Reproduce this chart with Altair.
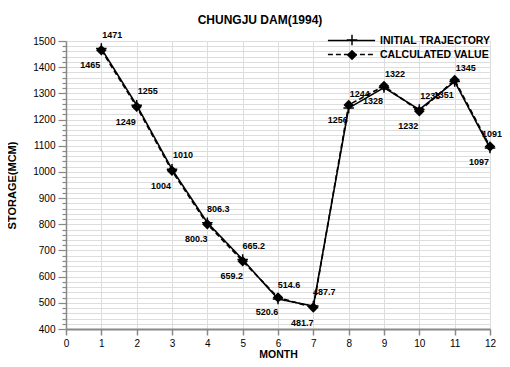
import altair as alt
import pandas as pd

months = [1, 2, 3, 4, 5, 6, 7, 8, 9, 10, 11, 12]
initial_traj = [1471, 1255, 1010, 806.3, 665.2, 514.6, 487.7, 1244, 1322, 1238, 1345, 1091]
calculated = [1465, 1249, 1004, 800.3, 659.2, 520.6, 481.7, 1256, 1328, 1232, 1351, 1097]
series_names = ["INITIAL TRAJECTORY", "CALCULATED VALUE"]
marker_names = ["plus", "diamond"]
x_ticks = list(range(0, 13))
y_ticks = list(range(400, 1501, 20))

rows = []
for m, v in zip(months, initial_traj):
    rows.append({"month": m, "value": v, "series": series_names[0], "marker": marker_names[0], "label": f"{v:g}"})
for m, v in zip(months, calculated):
    rows.append({"month": m, "value": v, "series": series_names[1], "marker": marker_names[1], "label": f"{v:g}"})
df = pd.DataFrame(rows)

FONT = "Liberation Sans"

x_enc = alt.X("month:Q", scale=alt.Scale(domain=[0, 12], nice=False),
              axis=alt.Axis(values=x_ticks, title="MONTH", tickSize=6, labelPadding=3,
                            domainWidth=2, tickWidth=1.5, labelFlush=False, labelOverlap=False,
                            format="d", titleY=28.5, titleBaseline="alphabetic",
                            titleFontSize=10.5))
y_enc = alt.Y("value:Q", scale=alt.Scale(domain=[400, 1500], nice=False, zero=False),
              axis=alt.Axis(values=y_ticks, title="STORAGE(MCM)", format="d",
                            labelExpr="datum.value % 100 === 0 ? datum.label : ''",
                            tickSize={"condition": {"test": "datum.value % 100 === 0", "value": 8}, "value": 4},
                            labelPadding=3, domainWidth=1.5, tickWidth=1.2, labelOverlap=False,
                            titleX=-54, titleBaseline="middle"))

base = alt.Chart(df).encode(x=x_enc, y=y_enc)

SYM = 110
line_path = "M-4.5,0L4.5,0"

lines = base.mark_line(color="black", strokeWidth=1.6).encode(
    strokeDash=alt.StrokeDash("series:N",
        scale=alt.Scale(domain=series_names, range=[[1, 0], [5, 3]]),
        legend=alt.Legend(title=None, orient="none", legendX=279, legendY=-7,
                          symbolType=line_path, symbolSize=SYM, symbolStrokeColor="black",
                          symbolFillColor="transparent",
                          symbolStrokeWidth=1.6, labelFont=FONT, labelFontWeight="bold",
                          labelFontSize=10.5, labelOffset=22, padding=0, rowPadding=2)),
)

plus_path = "M-1,-0.14L1,-0.14L1,0.14L-1,0.14Z M-0.14,-1L0.14,-1L0.14,1L-0.14,1Z"
diamond_path = "M0,-1L1,0L0,1L-1,0Z"

points = base.mark_point(filled=True, color="black", opacity=1, size=SYM).encode(
    shape=alt.Shape("marker:N",
        scale=alt.Scale(domain=marker_names, range=[plus_path, diamond_path]),
        legend=alt.Legend(title=None, orient="none", legendX=280, legendY=-7,
                          symbolFillColor="black", symbolStrokeColor="black",
                          symbolSize=SYM, labelExpr="''", labelFontSize=10.5,
                          labelFont=FONT, labelFontWeight="bold",
                          padding=0, rowPadding=-5)),
)

upper = base.transform_filter(alt.datum.series == series_names[0]).mark_text(
    font=FONT, fontWeight="bold", fontSize=9, dy=-14, color="black",
    dx=alt.ExprRef("datum.month >= 12 ? 2 : 11")
).encode(text="label:N")

lower = base.transform_filter(alt.datum.series == series_names[1]).mark_text(
    font=FONT, fontWeight="bold", fontSize=9, dx=-11, dy=15, color="black"
).encode(text="label:N")

chart = alt.layer(lines, points, upper, lower).properties(
    width=424, height=288,
    autosize=alt.AutoSizeParams(type="none"),
    padding={"left": 58, "top": 33, "right": 12, "bottom": 30},
    title=alt.TitleParams("CHUNGJU DAM(1994)", font=FONT, fontSize=12, fontWeight="bold",
                          anchor="middle", dx=-18, offset=4, frame="group", color="black"),
).configure_view(stroke=None).configure_axis(
    labelFont=FONT, labelFontSize=11, labelFontWeight="bold", labelColor="black",
    titleFont=FONT, titleFontSize=11, titleFontWeight="bold", titleColor="black",
    domainColor="black", tickColor="black", grid=False,
).configure(background="white")

chart.save("out.html", embed_options={"renderer": "svg", "actions": False})
